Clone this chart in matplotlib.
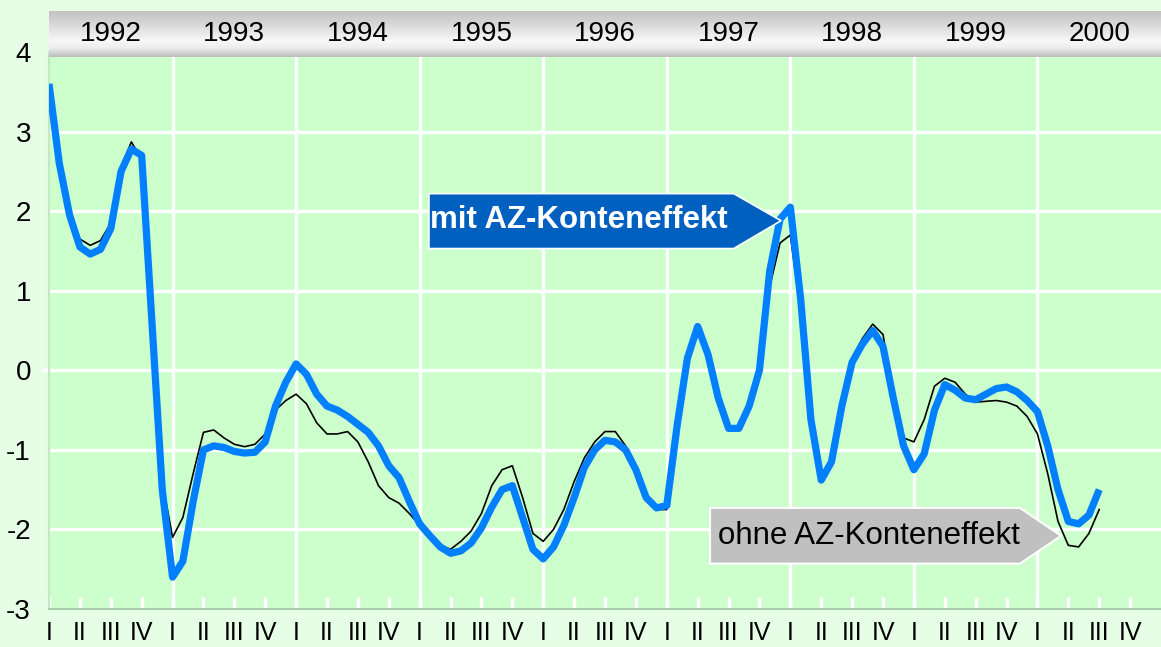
import numpy as np
import matplotlib
matplotlib.use('Agg')
import matplotlib.pyplot as plt
from matplotlib.patches import Polygon

plt.rcParams['font.family'] = ['Liberation Sans', 'DejaVu Sans']

# monthly values, Jan 1992 .. Jul 2000
mit_az = [3.6, 2.6, 1.95, 1.55, 1.46, 1.52, 1.78, 2.5, 2.78, 2.7,
          0.6, -1.5, -2.6, -2.4, -1.65, -1.0, -0.95, -0.97, -1.02, -1.04,
          -1.03, -0.9, -0.45, -0.15, 0.08, -0.05, -0.3, -0.45, -0.5, -0.58,
          -0.68, -0.78, -0.95, -1.2, -1.35, -1.65, -1.93, -2.08, -2.22, -2.3,
          -2.27, -2.17, -1.98, -1.72, -1.5, -1.45, -1.85, -2.25, -2.37, -2.22,
          -1.95, -1.6, -1.22, -1.0, -0.88, -0.9, -1.0, -1.25, -1.6, -1.73,
          -1.7, -0.7, 0.15, 0.55, 0.2, -0.35, -0.73, -0.73, -0.45, 0.0,
          1.25, 1.9, 2.05, 0.9, -0.62, -1.38, -1.15, -0.45, 0.1, 0.33,
          0.5, 0.3, -0.35, -0.95, -1.25, -1.05, -0.5, -0.18, -0.25, -0.35,
          -0.37, -0.3, -0.23, -0.21, -0.27, -0.38, -0.52, -0.95, -1.5, -1.9,
          -1.93, -1.82, -1.5]

ohne_az = [3.55, 2.55, 2.0, 1.65, 1.57, 1.63, 1.85, 2.55, 2.87, 2.65,
           0.55, -1.4, -2.1, -1.85, -1.3, -0.78, -0.75, -0.85, -0.93, -0.96,
           -0.93, -0.8, -0.5, -0.38, -0.3, -0.42, -0.66, -0.8, -0.8, -0.77,
           -0.9, -1.15, -1.45, -1.6, -1.67, -1.8, -1.95, -2.1, -2.2, -2.25,
           -2.15, -2.02, -1.8, -1.45, -1.25, -1.2, -1.6, -2.05, -2.15, -2.0,
           -1.75, -1.4, -1.1, -0.9, -0.77, -0.77, -0.95, -1.2, -1.55, -1.75,
           -1.75, -0.65, 0.15, 0.55, 0.2, -0.35, -0.72, -0.72, -0.45, 0.0,
           1.05, 1.6, 1.7, 0.75, -0.6, -1.35, -1.1, -0.4, 0.15, 0.4,
           0.58, 0.45, -0.3, -0.85, -0.9, -0.62, -0.2, -0.1, -0.15, -0.3,
           -0.4, -0.39, -0.38, -0.4, -0.45, -0.58, -0.8, -1.3, -1.9, -2.2,
           -2.22, -2.05, -1.75]

years = ['1992', '1993', '1994', '1995', '1996', '1997', '1998', '1999', '2000']
quarters = ['I', 'II', 'III', 'IV']
y_ticks = [-3, -2, -1, 0, 1, 2, 3, 4]

months = np.arange(len(mit_az))
n_months = 12 * len(years)

fig = plt.figure(figsize=(11.61, 6.47), dpi=100, facecolor='#e6fde6')
W, H = 1161, 647
ax = fig.add_axes([49 / W, (H - 609) / H, (W - 49) / W, (609 - 52) / H])
ax.set_facecolor('#ccffcc')

ax.set_xlim(0, n_months)
ax.set_ylim(-3, 4)

# grid
for yv in y_ticks:
    ax.axhline(yv, color='white', lw=2.4, zorder=1)
for k in range(1, len(years)):
    ax.axvline(12 * k, color='white', lw=2.4, zorder=1)
ax.plot([-0.55, 0], [0, 0], color='white', lw=2.4, clip_on=False, zorder=1)

ax.plot(months, ohne_az, color='black', lw=1.2, zorder=3)
ax.plot(months, mit_az, color='#0080ff', lw=5.2, zorder=4,
        solid_joinstyle='round', solid_capstyle='butt')

# ticks
ax.set_yticks(y_ticks)
ax.set_yticklabels([str(v) for v in y_ticks], fontsize=20)
ax.tick_params(axis='y', length=0, pad=13)
qpos = np.arange(0, n_months, 3)
ax.set_xticks(qpos)
ax.set_xticklabels([quarters[i % 4] for i in range(len(qpos))], fontsize=18)
ax.tick_params(axis='x', direction='in', length=9, width=2.5, color='white', pad=9)

for s in ['top', 'right']:
    ax.spines[s].set_visible(False)
ax.spines['bottom'].set_color('#9cc29c')
ax.spines['bottom'].set_linewidth(1.2)
ax.spines['left'].set_color('#c4e8c4')
ax.spines['left'].set_linewidth(1.5)

# annotation arrows
blue_box = Polygon([(36.9, 2.22), (66.5, 2.22), (71.1, 1.88), (66.5, 1.53), (36.9, 1.53)],
                   closed=True, facecolor='#0060c0', edgecolor='white', lw=1.2, zorder=5)
ax.add_patch(blue_box)
ax.text(37.0, 1.885, 'mit AZ-Konteneffekt', color='white', fontsize=22.5, fontweight='bold',
        ha='left', va='center', zorder=6)

gray_box = Polygon([(64.2, -1.73), (94.3, -1.73), (98.3, -2.08), (94.3, -2.43), (64.2, -2.43)],
                   closed=True, facecolor='#c0c0c0', edgecolor='white', lw=1.5, zorder=5)
ax.add_patch(gray_box)
ax.text(65.0, -2.08, 'ohne AZ-Konteneffekt', color='black', fontsize=22.5,
        ha='left', va='center', zorder=6)

# header band with years
hax = fig.add_axes([49 / W, (H - 57) / H, (W - 49) / W, 46 / H], zorder=10)
prof_t = [0.0, 0.3, 0.65, 0.8, 1.0]
prof_v = [0.76, 0.85, 0.97, 0.93, 0.74]
grad = np.interp(np.linspace(0, 1, 100), prof_t, prof_v)[:, None]
hax.imshow(grad, aspect='auto', cmap='gray', vmin=0, vmax=1,
           extent=[0, n_months, 0, 1], origin='upper')
hax.set_xlim(0, n_months)
hax.set_ylim(0, 1)
for k, yr in enumerate(years):
    hax.text(12 * k + 6, 0.5, yr, fontsize=20, ha='center', va='center')
hax.axis('off')

fig.savefig('out.png', dpi=100, facecolor=fig.get_facecolor())
